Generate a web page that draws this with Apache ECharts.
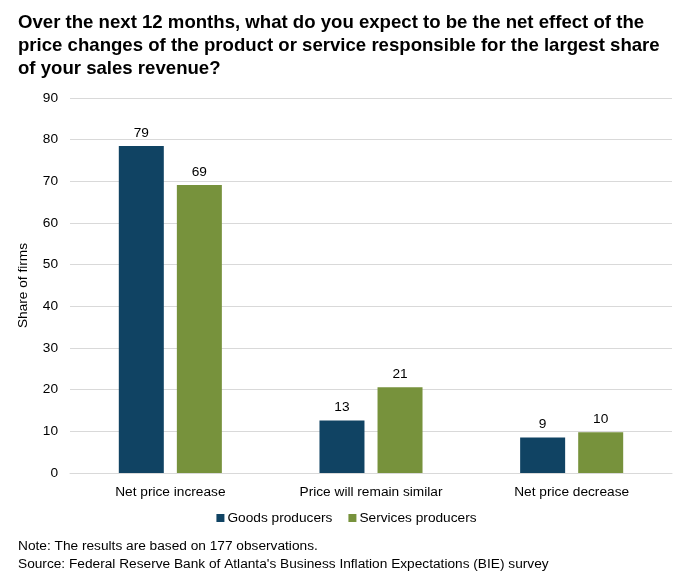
<!DOCTYPE html>
<html lang="en">
<head>
<meta charset="utf-8">
<script src="https://cdn.jsdelivr.net/npm/echarts@6/dist/echarts.min.js"></script>
<style>
    html, body { margin: 0; padding: 0; background: #fff; }
    #chartMain { width: 693px; height: 580px; }
</style>
</head>
<body>
<div id="chartMain"></div>
<script>
    // data
    var categories = ['Net price increase', 'Price will remain similar', 'Net price decrease'];
    var goods = [78.5, 12.6, 8.5];
    var services = [69.1, 20.6, 9.8];
    var yTicks = { min: 0, max: 90, interval: 10 };

    var font = 'Arial, "Liberation Sans", sans-serif';
    var fs = 13.7;
    var myChart = echarts.init(document.getElementById('chartMain'));

    var barLabel = {
        show: true,
        position: 'top',
        distance: 6,
        color: '#000',
        fontSize: fs,
        fontFamily: font,
        formatter: function (p) { return Math.round(p.value); }
    };

    myChart.setOption({
        animation: false,
        textStyle: { fontFamily: font },
        title: [{
            text: 'Over the next 12 months, what do you expect to be the net effect of the\nprice changes of the product or service responsible for the largest share\nof your sales revenue?',
            left: 13,
            top: 6,
            textStyle: { fontSize: 18.6, fontWeight: 'bold', color: '#000', lineHeight: 23, fontFamily: font }
        }, {
            text: 'Note: The results are based on 177 observations.\nSource: Federal Reserve Bank of Atlanta\'s Business Inflation Expectations (BIE) survey',
            left: 13,
            top: 532,
            textStyle: { fontSize: fs, fontWeight: 'normal', color: '#000', lineHeight: 18, fontFamily: font }
        }],
        legend: {
            data: ['Goods producers', 'Services producers'],
            bottom: 50,
            left: 'center',
            icon: 'rect',
            itemWidth: 8,
            itemHeight: 8,
            itemGap: 16,
            textStyle: { fontSize: fs, color: '#000', padding: [0, 0, 0, -2] }
        },
        grid: { left: 70, right: 21, top: 98, bottom: 107 },
        xAxis: {
            type: 'category',
            data: categories,
            axisTick: { show: false },
            axisLine: { lineStyle: { color: '#d9d9d9' } },
            axisLabel: { color: '#000', fontSize: fs, margin: 12 }
        },
        yAxis: {
            type: 'value',
            min: yTicks.min,
            max: yTicks.max,
            interval: yTicks.interval,
            name: 'Share of firms',
            nameLocation: 'middle',
            nameGap: 40,
            nameTextStyle: { color: '#000', fontSize: fs },
            axisLine: { show: false },
            axisTick: { show: false },
            axisLabel: { color: '#000', fontSize: fs, margin: 12 },
            splitLine: { lineStyle: { color: '#d9d9d9' } }
        },
        series: [{
            name: 'Goods producers',
            type: 'bar',
            data: goods,
            barWidth: 45,
            barGap: '29%',
            itemStyle: { color: '#104363' },
            label: barLabel
        }, {
            name: 'Services producers',
            type: 'bar',
            data: services,
            barWidth: 45,
            itemStyle: { color: '#77923C' },
            label: barLabel
        }]
    });
</script>
</body>
</html>
